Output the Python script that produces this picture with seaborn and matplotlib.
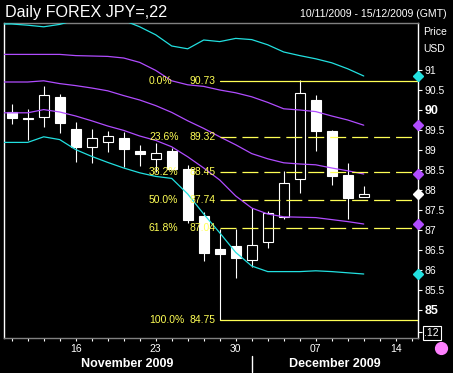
import numpy as np
import pandas as pd
import seaborn as sns
import matplotlib
matplotlib.use('Agg')
import matplotlib.pyplot as plt

# trading days on the axis (candles stop on 10 Dec)
axis_days = pd.bdate_range("2009-11-10", "2009-12-15")

# daily candles 10 Nov .. 10 Dec 2009
opens  = [89.94, 89.80, 89.82, 90.33, 89.53, 89.07, 89.21, 89.29, 88.97, 88.77, 88.98, 88.53,
          87.35, 86.53, 86.60, 86.25, 86.69, 87.33, 88.27, 90.25, 89.48, 88.38, 87.83]
highs  = [90.15, 90.02, 90.60, 90.40, 89.71, 89.53, 89.47, 89.44, 89.12, 89.18, 89.04, 88.63,
          87.45, 87.02, 87.02, 87.54, 87.48, 88.48, 90.75, 90.38, 89.50, 88.68, 88.10]
lows   = [89.64, 89.24, 89.58, 89.42, 88.71, 88.68, 88.96, 88.57, 88.61, 88.45, 88.51, 87.17,
          86.23, 84.75, 85.79, 86.08, 86.54, 87.27, 87.93, 88.98, 88.13, 87.28, 87.82]
closes = [89.81, 89.77, 90.38, 89.68, 89.08, 89.29, 89.35, 89.02, 88.89, 88.92, 88.52, 87.25,
          86.43, 86.39, 86.31, 86.62, 87.42, 88.17, 90.42, 89.48, 88.36, 87.81, 87.90]

# bollinger style bands, from 9 Nov so they run into the left edge
band_x = list(range(-1, 23))
upper2 = [92.15, 92.15, 92.12, 92.08, 92.14, 92.25, 92.33, 92.33, 92.24, 92.08, 91.88, 91.60,
          91.53, 91.75, 91.71, 91.79, 91.76, 91.63, 91.45, 91.36, 91.28, 91.18, 91.03, 90.85]
upper1 = [91.39, 91.39, 91.39, 91.39, 91.39, 91.36, 91.35, 91.34, 91.30, 91.19, 90.99, 90.73,
          90.63, 90.59, 90.50, 90.43, 90.33, 90.19, 90.03, 90.00, 89.96, 89.85, 89.75, 89.62]
middle = [90.70, 90.70, 90.70, 90.73, 90.66, 90.61, 90.55, 90.48, 90.36, 90.25, 90.11, 89.94,
          89.73, 89.54, 89.33, 89.13, 88.91, 88.78, 88.68, 88.65, 88.63, 88.55, 88.48, 88.40]
lower1 = [89.93, 89.93, 89.93, 90.01, 89.95, 89.85, 89.73, 89.60, 89.49, 89.35, 89.24, 89.08,
          88.83, 88.55, 88.25, 87.85, 87.55, 87.40, 87.33, 87.32, 87.31, 87.26, 87.21, 87.15]
lower2 = [89.19, 89.19, 89.19, 89.33, 89.26, 89.01, 88.84, 88.69, 88.55, 88.43, 88.34, 88.29,
          87.90, 87.40, 86.93, 86.44, 86.10, 85.96, 85.96, 85.96, 85.98, 85.96, 85.93, 85.90]

# fibonacci retracement from the 27 Nov low to the 4 Dec high
fib_pcts = ["0.0%", "23.6%", "38.2%", "50.0%", "61.8%", "100.0%"]
fib_levels = [90.73, 89.32, 88.45, 87.74, 87.04, 84.75]
fib_start = 13

price_ticks = [85, 85.5, 86, 86.5, 87, 87.5, 88, 88.5, 89, 89.5, 90, 90.5, 91]
month_names = ["November 2009", "December 2009"]

CYAN = "#22e0e0"
PURPLE = "#b04cff"
YELLOW = "#ffff55"

sns.set_style("dark", {"axes.facecolor": "black", "figure.facecolor": "black",
                       "axes.grid": False})
plt.rcParams["font.family"] = ["Liberation Sans", "DejaVu Sans"]
plt.rcParams["lines.scale_dashes"] = False

fig = plt.figure(figsize=(4.53, 3.73), dpi=100)
ax = fig.add_axes([4 / 453, 35 / 373, 414 / 453, 315 / 373])
ax.set_facecolor("black")

# candles
df = pd.DataFrame({"x": np.arange(len(opens)), "open": opens, "high": highs,
                   "low": lows, "close": closes})
up = df["close"] >= df["open"]
body_lo = df[["open", "close"]].min(axis=1)
body_h = (df["close"] - df["open"]).abs().clip(lower=0.02)
ax.vlines(df["x"], df["low"], df["high"], color="white", lw=0.8, zorder=2)
ax.bar(df["x"][up], body_h[up], bottom=body_lo[up], width=0.62, color="black",
       edgecolor="white", lw=0.8, zorder=3)
ax.bar(df["x"][~up], body_h[~up], bottom=body_lo[~up], width=0.62, color="white",
       edgecolor="white", lw=0.8, zorder=3)

# bands
bands = pd.DataFrame({"x": band_x, "upper2": upper2, "upper1": upper1, "middle": middle,
                      "lower1": lower1, "lower2": lower2})
band_cols = {"upper2": CYAN, "upper1": PURPLE, "middle": PURPLE, "lower1": PURPLE, "lower2": CYAN}
for col, c in band_cols.items():
    sns.lineplot(data=bands, x="x", y=col, color=c, lw=0.9, ax=ax, zorder=4)

xmin, xmax = -0.48, 25.39
ax.set_xlim(xmin, xmax)
ax.set_ylim(84.3, 92.175)

# fib lines + labels
for pct, lvl in zip(fib_pcts, fib_levels):
    if pct in ("0.0%", "100.0%"):
        ax.plot([fib_start, xmax], [lvl, lvl], color=YELLOW, lw=0.9, zorder=5)
    else:
        ax.plot([fib_start, xmax], [lvl, lvl], color=YELLOW, lw=0.9, zorder=5,
                dashes=(11.5, 4.3))
    ax.text(8.58, lvl, pct, color=YELLOW, fontsize=7.5, va="center", ha="left", zorder=6)
    ax.text(11.09, lvl, f"{lvl:.2f}", color=YELLOW, fontsize=7.5, va="center", ha="left", zorder=6)

# right side markers on the last values
for col, c in band_cols.items():
    ax.plot([xmax], [bands[col].iloc[-1]], marker="D", ms=5, color=c, clip_on=False, zorder=7)
ax.plot([xmax], [closes[-1]], marker="D", ms=5, color="white", clip_on=False, zorder=7)

# axes styling
ax.set_xlabel("")
ax.set_ylabel("")
for side in ("top", "bottom"):
    ax.spines[side].set_color("#808080")
for side in ("left", "right"):
    ax.spines[side].set_color("white")
for s in ax.spines.values():
    s.set_visible(True)
    s.set_linewidth(1)

ax.yaxis.tick_right()
ax.set_yticks(price_ticks + [84.45])
ylabels = []
for t in price_ticks:
    ylabels.append(f"{t:g}")
ylabels.append(".12")
ax.set_yticklabels(ylabels)
ax.tick_params(axis="y", colors="white", length=3, width=0.8, pad=1.5, labelsize=7.5,
               right=True, left=False)
for lab in ax.get_yticklabels():
    if lab.get_text() in ("90", "85"):
        lab.set_fontweight("bold")
        lab.set_fontsize(9)
    if lab.get_text() == ".12":
        lab.set_bbox(dict(facecolor="black", edgecolor="white", lw=0.8, pad=1.2))

ax.set_xticks(range(len(axis_days)))
ax.set_xticklabels([d.strftime("%d") if d.weekday() == 0 else "" for d in axis_days])
ax.tick_params(axis="x", colors="white", length=2.5, width=0.8, pad=2, labelsize=7.5,
               bottom=True)

# month row under the axis
xt = ax.get_xaxis_transform()
ax.text(7.24, -0.083, month_names[0], transform=xt, color="white", fontsize=9,
        fontweight="bold", ha="center", va="center")
ax.text(20.2, -0.083, month_names[1], transform=xt, color="white", fontsize=9,
        fontweight="bold", ha="center", va="center")
ax.plot([15, 15], [-0.057, -0.108], transform=xt, color="white", lw=1, clip_on=False)

ax.plot([1.0556], [-0.032], marker="o", ms=8.5, color="#ff80ff", transform=ax.transAxes,
        clip_on=False)

fig.text(5 / 453, 1 - 12 / 373, "Daily FOREX JPY=,22", color="white", fontsize=11.6,
         va="center", ha="left")
fig.text(447 / 453, 1 - 14 / 373, "10/11/2009 - 15/12/2009 (GMT)", color="white",
         fontsize=7.6, va="center", ha="right")
fig.text(423 / 453, 1 - 32 / 373, "Price", color="white", fontsize=7.5, va="center")
fig.text(423 / 453, 1 - 49 / 373, "USD", color="white", fontsize=7.5, va="center")

fig.savefig("out.png", dpi=100, facecolor="black")
